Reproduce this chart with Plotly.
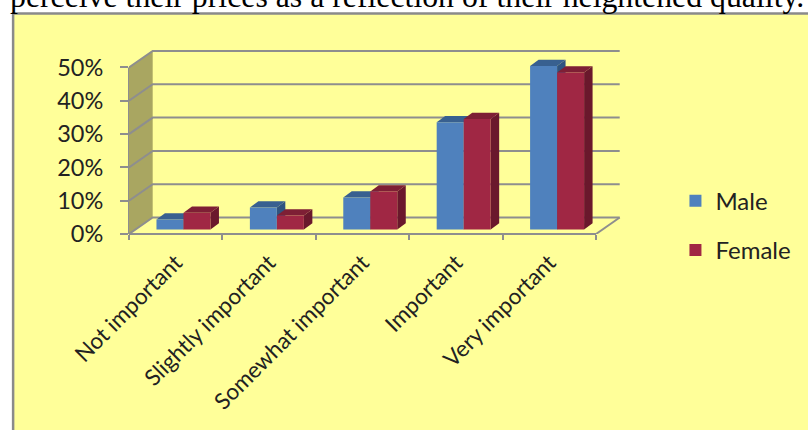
import plotly.graph_objects as go

categories = ["Not important", "Slightly important", "Somewhat important", "Important", "Very important"]
male = [3.0, 6.6, 9.6, 32.2, 49.1]
female = [5.0, 4.2, 11.4, 33.2, 47.1]
y_ticks = [0, 10, 20, 30, 40, 50]
y_labels = ["0%", "10%", "20%", "30%", "40%", "50%"]
caption = "perceive their prices as a reflection of their heightened quality."

W, H = 808, 430
L, T = 129, 50
CAT_PX = 93.5
PCT_PX = 3.34
ZERO_PX = 234.5

WALL_DX, WALL_DY = 23.7 / CAT_PX, 16.5 / PCT_PX
BAR_DX, BAR_DY = 8.5 / CAT_PX, 6.3 / PCT_PX
BAR_W = 27 / CAT_PX
BASE = 4.5 / PCT_PX
OFF_M, OFF_F = -19.25 / CAT_PX, 7.8 / CAT_PX
X0, X1 = -0.5, len(categories) - 0.5
XMAX = X1 + 26 / CAT_PX
YMAX = (ZERO_PX - (T - 2)) / PCT_PX
plot_w = (XMAX - X0) * CAT_PX
plot_h = YMAX * PCT_PX

GRID = "#8E8E8E"


def poly(pts, fill):
    path = "M" + " L".join(f"{x},{y}" for x, y in pts) + " Z"
    return dict(type="path", path=path, xref="x", yref="y", fillcolor=fill,
                line=dict(width=0), layer="below")


def seg(pts, width=2):
    path = "M" + " L".join(f"{x},{y}" for x, y in pts)
    return dict(type="path", path=path, xref="x", yref="y",
                line=dict(color=GRID, width=width), layer="below")


shapes = [
    dict(type="rect", xref="paper", yref="paper",
         x0=(13 - L) / plot_w, x1=(W + 6 - L) / plot_w,
         y0=-(H + 6 - ZERO_PX) / plot_h, y1=(ZERO_PX - 13.5) / plot_h,
         fillcolor="#FFFF99", line=dict(color="#8A8A8A", width=2.5), layer="below"),
    poly([(X0, 0), (X0 + WALL_DX, WALL_DY), (X0 + WALL_DX, 50 + WALL_DY), (X0, 50)], "#A9A661"),
]
for v in y_ticks:
    shapes.append(seg([(X0, v), (X0 + WALL_DX, v + WALL_DY), (X1 + WALL_DX, v + WALL_DY)]))
shapes.append(seg([(X1, 0), (X1 + WALL_DX, WALL_DY)]))
shapes.append(dict(type="line", xref="x", yref="paper", x0=X0, x1=X1, y0=0, y1=0,
                   line=dict(color=GRID, width=2), layer="below"))
shapes.append(dict(type="line", xref="paper", yref="y", x0=0, x1=0, y0=0, y1=50,
                   line=dict(color=GRID, width=2), layer="below"))


def faces(values, off, top, side):
    out = []
    for i, v in enumerate(values):
        l = i + off
        r = l + BAR_W
        h = BASE + v
        out.append(poly([(r, BASE), (r + BAR_DX, BASE + BAR_DY), (r + BAR_DX, h + BAR_DY), (r, h)], side))
        out.append(poly([(l, h), (l + BAR_DX, h + BAR_DY), (r + BAR_DX, h + BAR_DY), (r, h)], top))
    return out


shapes += faces(male, OFF_M, "#386090", "#2F5480")
shapes += faces(female, OFF_F, "#7E1F35", "#6A182C")

fig = go.Figure()
fig.add_bar(name="Male", x=categories, y=male, base=BASE, width=BAR_W, offset=OFF_M,
            marker=dict(color="#4F81BD", line=dict(width=0)), legendgroup="m", hoverinfo="skip")
fig.add_bar(name="Female", x=categories, y=female, base=BASE, width=BAR_W, offset=OFF_F,
            marker=dict(color="#A02744", line=dict(width=0)), legendgroup="f", hoverinfo="skip")

FONT = "Lato"
fig.update_layout(
    width=W, height=H, barmode="overlay", paper_bgcolor="white", plot_bgcolor="rgba(0,0,0,0)",
    margin=dict(l=L, t=T - 2, r=W - L - plot_w, b=H - ZERO_PX, autoexpand=False),
    shapes=shapes, font=dict(family=FONT, color="#222222"),
    xaxis=dict(type="category", categoryorder="array", categoryarray=categories,
               range=[X0, XMAX], showgrid=False, zeroline=False, showline=False,
               tickson="boundaries", ticks="outside", ticklen=5, tickwidth=2, tickcolor=GRID,
               tickangle=-45, tickfont=dict(size=22.5), ticklabelstandoff=10),
    yaxis=dict(range=[0, YMAX], tickvals=y_ticks, ticktext=y_labels, showgrid=False, zeroline=False,
               showline=False, ticks="outside", ticklen=8, tickwidth=2, tickcolor=GRID,
               tickfont=dict(size=23.5), ticklabelstandoff=12),
    legend=dict(x=(676 - L) / plot_w, xanchor="left", y=(ZERO_PX - 179) / plot_h, yanchor="top",
                bgcolor="rgba(0,0,0,0)", font=dict(size=24), tracegroupgap=15,
                traceorder="grouped"),
    annotations=[dict(text=caption, xref="paper", yref="paper", x=0, y=1, xanchor="left",
                      yanchor="bottom", xshift=8 - L, yshift=T - 2 - 16, showarrow=False,
                      font=dict(family="Liberation Serif", size=31.8, color="black"))],
)
fig.write_html("out.html", config=dict(displayModeBar=False),
               post_script="document.body.style.margin='0';document.body.style.overflow='hidden';")
